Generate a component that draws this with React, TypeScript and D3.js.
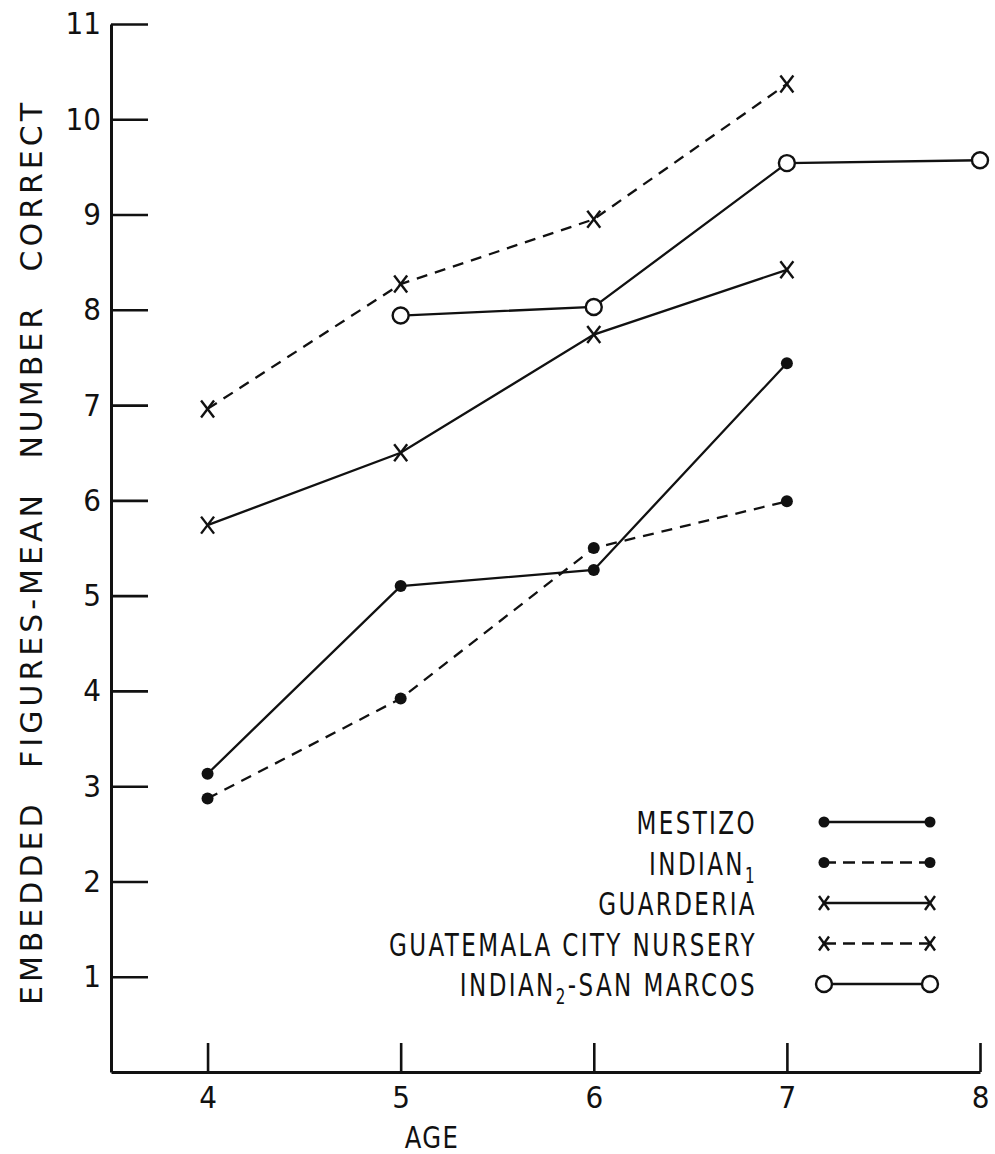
import React, { useEffect, useRef } from 'react';
import * as d3 from 'd3';

// values (age -> mean number correct)
const mestizoAges = [4, 5, 6, 7];
const mestizoValues = [3.13, 5.1, 5.27, 7.44];

const indian1Ages = [4, 5, 6, 7];
const indian1Values = [2.87, 3.92, 5.5, 5.99];

const guarderiaAges = [4, 5, 6, 7];
const guarderiaValues = [5.74, 6.5, 7.74, 8.42];

const nurseryAges = [4, 5, 6, 7];
const nurseryValues = [6.96, 8.27, 8.95, 10.37];

const indian2Ages = [5, 6, 7, 8];
const indian2Values = [7.94, 8.03, 9.54, 9.57];

const xTicks = [4, 5, 6, 7, 8];
const yTicks = [1, 2, 3, 4, 5, 6, 7, 8, 9, 10, 11];

const seriesList = [
    { name: 'MESTIZO', sub: '', rest: '', ages: mestizoAges, values: mestizoValues, dash: null, marker: 'dot' },
    { name: 'INDIAN', sub: '1', rest: '', ages: indian1Ages, values: indian1Values, dash: '11,8', marker: 'dot' },
    { name: 'GUARDERIA', sub: '', rest: '', ages: guarderiaAges, values: guarderiaValues, dash: null, marker: 'x' },
    { name: 'GUATEMALA CITY NURSERY', sub: '', rest: '', ages: nurseryAges, values: nurseryValues, dash: '11,8', marker: 'x' },
    { name: 'INDIAN', sub: '2', rest: '-SAN MARCOS', ages: indian2Ages, values: indian2Values, dash: null, marker: 'open' },
];

const FONT = '"DejaVu Sans Condensed", "DejaVu Sans", sans-serif';
const WIDE_FONT = '"DejaVu Sans", sans-serif';

function drawMarker(g, type, x, y, small = false) {
    if (type === 'dot') {
        g.append('circle').attr('cx', x).attr('cy', y).attr('r', small ? 5.5 : 6).attr('fill', '#111');
    } else if (type === 'open') {
        g.append('circle').attr('cx', x).attr('cy', y).attr('r', 8)
            .attr('fill', '#fff').attr('stroke', '#111').attr('stroke-width', 2.4);
    } else {
        const s = small ? 5 : 6.5;
        g.append('line').attr('x1', x - s).attr('y1', y - s - 2).attr('x2', x + s).attr('y2', y + s + 2)
            .attr('stroke', '#111').attr('stroke-width', 2.4);
        g.append('line').attr('x1', x + s).attr('y1', y - s - 2).attr('x2', x - s).attr('y2', y + s + 2)
            .attr('stroke', '#111').attr('stroke-width', 2.4);
    }
}

const App = () => {
    const ref = useRef(null);

    useEffect(() => {
        const svg = d3.select(ref.current);
        svg.selectAll('*').remove();

        const xScale = d3.scaleLinear().domain([3.5, 8]).range([111, 980]);
        const yScale = d3.scaleLinear().domain([0, 11]).range([1072, 24]);

        // y axis, ticks pointing into the plot
        const yAxis = svg.append('g')
            .attr('transform', `translate(${xScale(3.5)},0)`)
            .call(d3.axisLeft(yScale).tickValues(yTicks).tickSizeInner(-37).tickSizeOuter(0).tickPadding(10));
        yAxis.select('.domain').attr('stroke', '#111').attr('stroke-width', 3);
        yAxis.selectAll('.tick line').attr('stroke', '#111').attr('stroke-width', 2.6);
        yAxis.selectAll('.tick text')
            .attr('fill', '#111').style('font-family', FONT).style('font-size', '31px');

        // x axis, ticks pointing up
        const xAxis = svg.append('g')
            .attr('transform', `translate(0,${yScale(0)})`)
            .call(d3.axisBottom(xScale).tickValues(xTicks).tickFormat(d3.format('d'))
                .tickSizeInner(-29).tickSizeOuter(0).tickPadding(14));
        xAxis.select('.domain').attr('stroke', '#111').attr('stroke-width', 3);
        xAxis.selectAll('.tick line').attr('stroke', '#111').attr('stroke-width', 2.6);
        xAxis.selectAll('.tick text')
            .attr('fill', '#111').style('font-family', FONT).style('font-size', '31px');

        svg.append('text')
            .attr('transform', 'translate(432,1148) scale(0.9,1)')
            .attr('text-anchor', 'middle')
            .style('font-family', FONT).style('font-size', '30px').style('letter-spacing', '1.5px')
            .attr('fill', '#111')
            .text('AGE');

        svg.append('text')
            .attr('transform', 'translate(42,552) rotate(-90)')
            .attr('text-anchor', 'middle')
            .style('font-family', WIDE_FONT).style('font-size', '30px')
            .style('letter-spacing', '4px').style('word-spacing', '19px')
            .attr('fill', '#111')
            .text('EMBEDDED FIGURES-MEAN NUMBER CORRECT');

        const lineGenerator = d3.line()
            .x(d => xScale(d.age))
            .y(d => yScale(d.value));

        const plot = svg.append('g');
        seriesList.forEach(s => {
            const pts = s.ages.map((a, i) => ({ age: a, value: s.values[i] }));
            plot.append('path')
                .datum(pts)
                .attr('fill', 'none')
                .attr('stroke', '#111')
                .attr('stroke-width', 2.3)
                .attr('stroke-dasharray', s.dash)
                .attr('d', lineGenerator);
            pts.forEach(p => drawMarker(plot, s.marker, xScale(p.age), yScale(p.value)));
        });

        // legend
        const legend = svg.append('g');
        seriesList.forEach((s, i) => {
            const y = 822 + i * 40.5;
            const t = legend.append('text')
                .attr('transform', `translate(757,${y + 12}) scale(0.8,1)`)
                .attr('text-anchor', 'end')
                .style('font-family', FONT).style('font-size', '32px').style('letter-spacing', '3px')
                .attr('fill', '#111');
            t.append('tspan').text(s.name);
            if (s.sub) {
                t.append('tspan').attr('dy', 8).style('font-size', '21px').text(s.sub);
                if (s.rest) t.append('tspan').attr('dy', -8).text(s.rest);
            }
            legend.append('line')
                .attr('x1', 824).attr('x2', 930).attr('y1', y).attr('y2', y)
                .attr('stroke', '#111').attr('stroke-width', 2.3)
                .attr('stroke-dasharray', s.dash ? '12,7' : null);
            drawMarker(legend, s.marker, 824, y, true);
            drawMarker(legend, s.marker, 930, y, true);
        });
    }, []);

    return (
        <svg ref={ref} width={995} height={1154}
            style={{ position: 'absolute', left: 0, top: 0, background: '#fff' }} />
    );
};

export default App;
